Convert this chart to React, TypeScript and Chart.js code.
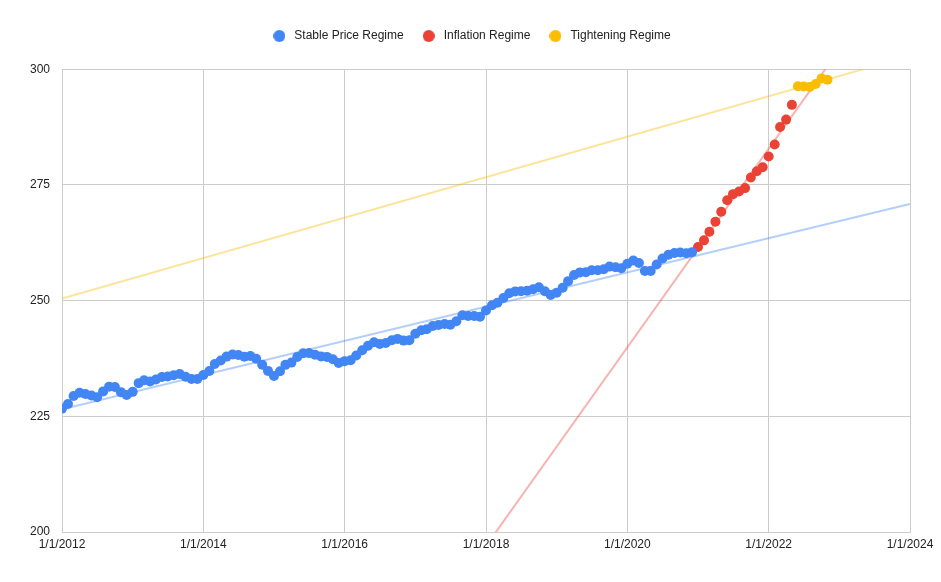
import React, { useEffect, useRef } from "react";
import { Chart, registerables } from "chart.js";

Chart.register(...registerables);

// Monthly CPI values (index points)
const stableStart = "2012-01"; // Jan 2012 .. Dec 2020
const stableValues = [
  226.665, 227.663, 229.392, 230.085, 229.815, 229.478, 229.104, 230.379, 231.407, 231.317, 230.221, 229.601,
  230.28, 232.166, 232.773, 232.531, 232.945, 233.504, 233.596, 233.877, 234.149, 233.546, 233.069, 233.049,
  233.916, 234.781, 236.293, 237.072, 237.9, 238.343, 238.25, 237.852, 238.031, 237.433, 236.151, 234.812,
  233.707, 234.722, 236.119, 236.599, 237.805, 238.638, 238.654, 238.316, 237.945, 237.838, 237.336, 236.525,
  236.916, 237.111, 238.132, 239.261, 240.229, 241.018, 240.628, 240.849, 241.428, 241.729, 241.353, 241.432,
  242.839, 243.603, 243.801, 244.524, 244.733, 244.955, 244.786, 245.519, 246.819, 246.663, 246.669, 246.524,
  247.867, 248.991, 249.554, 250.546, 251.588, 251.989, 252.006, 252.146, 252.439, 252.885, 252.038, 251.233,
  251.712, 252.776, 254.202, 255.548, 256.092, 256.143, 256.571, 256.558, 256.759, 257.346, 257.208, 256.974,
  257.971, 258.678, 258.115, 256.389, 256.394, 257.797, 259.101, 259.918, 260.28, 260.388, 260.229, 260.474,
];
const inflationStart = "2021-01"; // Jan 2021 .. May 2022
const inflationValues = [
  261.582, 263.014, 264.877, 267.054, 269.195, 271.696, 273.003, 273.567, 274.31, 276.589, 277.948, 278.802,
  281.148, 283.716, 287.504, 289.109, 292.296,
];
const tighteningStart = "2022-06"; // Jun 2022 .. Nov 2022
const tighteningValues = [296.311, 296.276, 296.171, 296.808, 298.012, 297.711];

const xTickYears = [2012, 2014, 2016, 2018, 2020, 2022, 2024];
const yTicks = [200, 225, 250, 275, 300];

const seriesNames = ["Stable Price Regime", "Inflation Regime", "Tightening Regime"];
const seriesColors = ["#4285F4", "#EA4335", "#FBBC04"];
const trendColors = ["rgba(66,133,244,0.4)", "rgba(234,67,53,0.4)", "rgba(251,188,4,0.4)"];

function toPoints(start: string, values: number[]) {
  const [y, m] = start.split("-").map(Number);
  return values.map((v, i) => {
    const mi = m - 1 + i;
    const yy = y + Math.floor(mi / 12);
    const mm = mi % 12;
    const t0 = Date.UTC(yy, 0, 1);
    const t1 = Date.UTC(yy + 1, 0, 1);
    const t = Date.UTC(yy, mm, 1);
    return { x: yy + (t - t0) / (t1 - t0), y: v };
  });
}

function trend(points: { x: number; y: number }[]) {
  const n = points.length;
  const mx = points.reduce((s, p) => s + p.x, 0) / n;
  const my = points.reduce((s, p) => s + p.y, 0) / n;
  let sxy = 0;
  let sxx = 0;
  points.forEach((p) => {
    sxy += (p.x - mx) * (p.y - my);
    sxx += (p.x - mx) * (p.x - mx);
  });
  const slope = sxy / sxx;
  const xmin = xTickYears[0];
  const xmax = xTickYears[xTickYears.length - 1];
  return [
    { x: xmin, y: my + slope * (xmin - mx) },
    { x: xmax, y: my + slope * (xmax - mx) },
  ];
}

function dot(color: string) {
  const c = document.createElement("canvas");
  c.width = 12;
  c.height = 12;
  const g = c.getContext("2d")!;
  g.fillStyle = color;
  g.beginPath();
  g.arc(6, 6, 6, 0, Math.PI * 2);
  g.fill();
  return c;
}

export default function App() {
  const ref = useRef<HTMLCanvasElement | null>(null);

  useEffect(() => {
    document.body.style.margin = "0";
    const series = [
      toPoints(stableStart, stableValues),
      toPoints(inflationStart, inflationValues),
      toPoints(tighteningStart, tighteningValues),
    ];
    const dots = seriesColors.map(dot);
    const font = { family: "'Liberation Sans', Arial, sans-serif", size: 12 };
    const chart = new Chart(ref.current!, {
      type: "scatter",
      data: {
        datasets: [
          ...series.map((pts, i) => ({
            label: seriesNames[i],
            data: pts,
            backgroundColor: seriesColors[i],
            borderColor: seriesColors[i],
            pointRadius: 5,
            pointBorderWidth: 0,
            showLine: false,
          })),
          ...series.map((pts, i) => ({
            label: "trend" + i,
            data: trend(pts),
            borderColor: trendColors[i],
            backgroundColor: trendColors[i],
            borderWidth: 2,
            pointRadius: 0,
            showLine: true,
          })),
        ],
      },
      options: {
        animation: false,
        responsive: false,
        layout: { padding: { left: 0, right: 0, top: 14, bottom: 0 } },
        plugins: {
          tooltip: { enabled: false },
          subtitle: {
            display: true,
            text: "",
            weight: 500,
            font: { size: 1 },
            padding: { top: 8, bottom: 8 },
          },
          legend: {
            position: "top",
            weight: 2000,
            labels: {
              usePointStyle: true,
              pointStyleWidth: 18,
              boxWidth: 18,
              boxHeight: 12,
              padding: 16,
              color: "#222",
              font,
              filter: (item) => item.datasetIndex! < 3,
              generateLabels: (ch) => {
                const items = Chart.defaults.plugins.legend.labels.generateLabels(ch);
                items.forEach((it) => {
                  if (it.datasetIndex! < 3) it.pointStyle = dots[it.datasetIndex!];
                });
                return items;
              },
            },
          },
        },
        scales: {
          x: {
            type: "linear",
            min: 2012,
            max: 2024,
            afterBuildTicks: (scale) => {
              scale.ticks = xTickYears.map((v) => ({ value: v }));
            },
            afterFit: (scale: any) => {
              scale.height = 50;
              scale.paddingRight = 31;
              scale.paddingLeft = 0;
            },
            ticks: {
              callback: (v) => `1/1/${v}`,
              color: "#222",
              font,
              maxRotation: 0,
              autoSkip: false,
              padding: 5,
            },
            grid: { color: "#cccccc", drawTicks: false },
            border: { color: "#cccccc" },
          },
          y: {
            min: 200,
            max: 300,
            afterBuildTicks: (scale) => {
              scale.ticks = yTicks.map((v) => ({ value: v }));
            },
            afterFit: (scale) => {
              scale.width = 62;
            },
            ticks: { color: "#222", font, padding: 12 },
            grid: { color: "#cccccc", drawTicks: false },
            border: { color: "#cccccc" },
          },
        },
      },
    });
    return () => chart.destroy();
  }, []);

  return (
    <div style={{ position: "fixed", left: 0, top: 0, width: 941, height: 582, background: "#fff" }}>
      <canvas ref={ref} width={941} height={582} />
    </div>
  );
}
